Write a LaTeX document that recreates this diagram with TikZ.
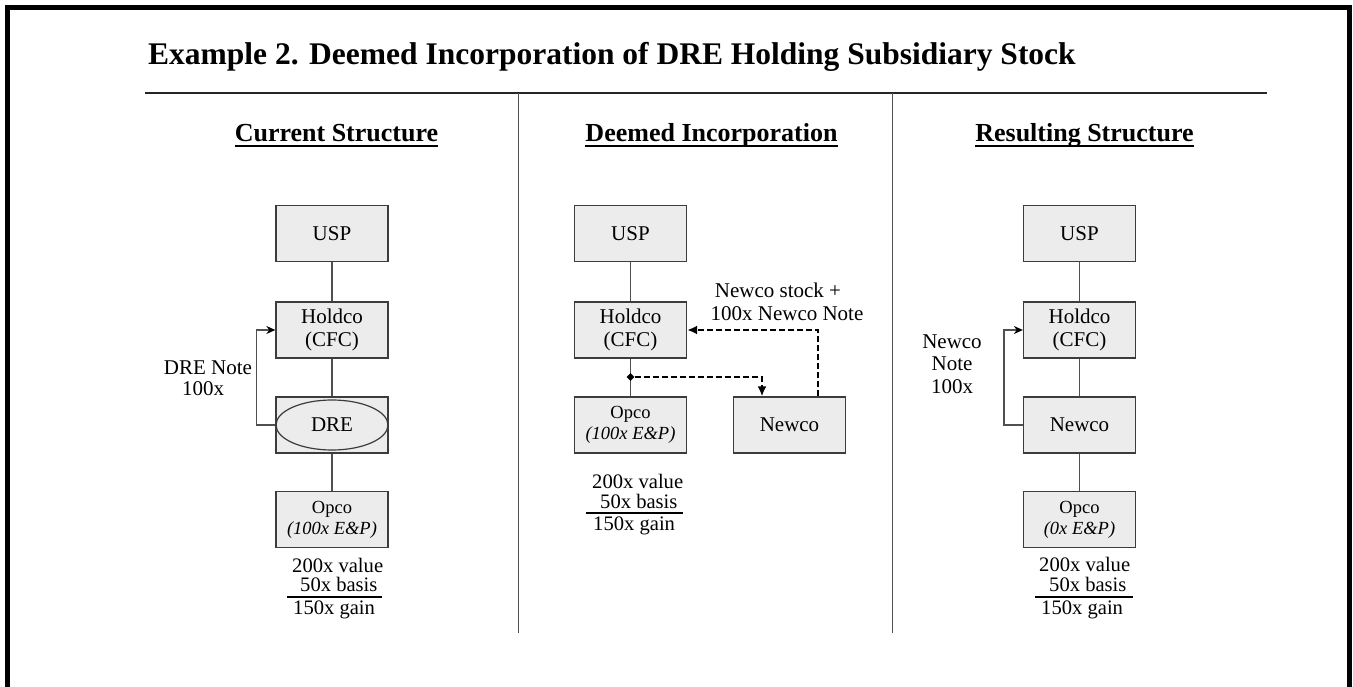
\documentclass[tikz,border=0pt]{standalone}
\usepackage{fontspec}
\setmainfont{Liberation Serif}
\usetikzlibrary{arrows.meta,shapes.geometric}
\definecolor{boxfill}{HTML}{ECECEC}
\definecolor{boxline}{HTML}{3C3C3C}
\definecolor{connline}{HTML}{505050}
\begin{document}
\begin{tikzpicture}[x=1pt,y=-1pt,
  box/.style={draw=boxline, fill=boxfill, line width=1.3pt, minimum width=112pt, minimum height=56pt, inner sep=0pt, align=center, font=\fontsize{21}{22.5}\selectfont},
  opcobox/.style={box, font=\fontsize{18.5}{21}\selectfont},
  conn/.style={draw=connline, line width=1.3pt},
  loopconn/.style={draw=connline, line width=1.3pt, -{Stealth[length=9pt,width=8pt,color=black]}},
  dasharrow/.style={draw=black, line width=2.2pt, dash pattern=on 6pt off 3pt, -{Latex[length=10pt,width=9pt]}},
  txt/.style={inner sep=0pt, font=\fontsize{21}{22.5}\selectfont},
  val/.style={inner sep=0pt, anchor=base west, font=\fontsize{20.6}{22}\selectfont},
  hdr/.style={inner sep=0pt, anchor=base, font=\fontsize{26}{28}\selectfont\bfseries},
  divider/.style={draw=connline, line width=1.4pt},
  uline/.style={draw=black, line width=1.2pt}
]
\useasboundingbox (0,0) rectangle (1353,687);
\begin{scope}
\clip (0,0) rectangle (1353,687);
\draw[line width=5pt, black] (7.5,700) -- (7.5,7.5) -- (1349,7.5) -- (1349,700);
\end{scope}

% title and rule
\node[inner sep=0pt, anchor=base west, font=\fontsize{31.5}{34}\selectfont\bfseries] (title) at (148,65) {Example 2. Deemed Incorporation of DRE Holding Subsidiary Stock};
\coordinate (ruleL) at (145,93);
\coordinate (ruleR) at (1267,93);
\draw[line width=1.4pt, black!85] (ruleL) -- (ruleR);

% dividers
\coordinate (d1t) at (518.7,93);
\coordinate (d1b) at (518.7,633);
\coordinate (d2t) at (892.7,93);
\coordinate (d2b) at (892.7,633);
\draw[divider] (d1t) -- (d1b);
\draw[divider] (d2t) -- (d2b);

% headers
\node[hdr] (h1) at (336.5,142) {Current Structure};
\node[hdr] (h2) at (711.5,142) {Deemed Incorporation};
\node[hdr] (h3) at (1084.5,142) {Resulting Structure};
\foreach \h in {h1,h2,h3}{
  \draw[line width=2pt, black] ([yshift=-4.5pt]\h.base west) -- ([yshift=-4.5pt]\h.base east);
}

% ---------- Panel 1 ----------
\node[box] (usp1) at (332,233.5) {USP};
\node[box] (hold1) at (332,330) {Holdco\\(CFC)};
\node[box] (dre1) at (332,425) {};
\node[ellipse, draw=boxline, line width=1.2pt, minimum width=112pt, minimum height=50pt, inner sep=0pt, font=\fontsize{21}{22.5}\selectfont] (dreE) at (332,425) {DRE};
\node[opcobox] (opco1) at (332,519.5) {Opco\\\textit{(100x E\&P)}};
\draw[conn] (usp1.south) -- (hold1.north);
\draw[conn] (hold1.south) -- (dre1.north);
\draw[conn] (dre1.south) -- (opco1.north);
\draw[loopconn] (dre1.west) -- ++(-19,0) |- (hold1.west);
\node[txt, anchor=base] (n1a) at (208,374) {DRE Note};
\node[txt, anchor=base] (n1b) at (203,395) {100x};
\node[val] (v1a) at (292,572) {200x value};
\node[val] (v1b) at (300,591) {50x basis};
\node[val] (v1c) at (293,614) {150x gain};
\coordinate (u1a) at (287,597);
\coordinate (u1b) at (382,597);
\draw[uline] (u1a) -- (u1b);

% ---------- Panel 2 ----------
\node[box] (usp2) at (630.5,233.5) {USP};
\node[box] (hold2) at (630.5,330) {Holdco\\(CFC)};
\node[opcobox] (opco2) at (630.5,425) {Opco\\\textit{(100x E\&P)}};
\node[box] (newco2) at (789.5,425) {Newco};
\draw[conn] (usp2.south) -- (hold2.north);
\draw[conn] (hold2.south) -- (opco2.north);
\node[diamond, fill=black, inner sep=0pt, minimum size=8pt] (dm) at (630.5,377) {};
\draw[dasharrow] (dm.east) -| ([xshift=-27.5pt]newco2.north);
\draw[dasharrow] ([xshift=28.5pt]newco2.north) |- (hold2.east);
\node[txt, anchor=base] (l2a) at (778,298) {Newco stock +};
\node[txt, anchor=base] (l2b) at (787,320.5) {100x Newco Note};
\node[val] (v2a) at (592,488) {200x value};
\node[val] (v2b) at (600,508) {50x basis};
\node[val] (v2c) at (593,530) {150x gain};
\coordinate (u2a) at (586,513);
\coordinate (u2b) at (683,513);
\draw[uline] (u2a) -- (u2b);

% ---------- Panel 3 ----------
\node[box] (usp3) at (1079.5,233.5) {USP};
\node[box] (hold3) at (1079.5,330) {Holdco\\(CFC)};
\node[box] (newco3) at (1079.5,425) {Newco};
\node[opcobox] (opco3) at (1079.5,519.5) {Opco\\\textit{(0x E\&P)}};
\draw[conn] (usp3.south) -- (hold3.north);
\draw[conn] (hold3.south) -- (newco3.north);
\draw[conn] (newco3.south) -- (opco3.north);
\draw[loopconn] (newco3.west) -- ++(-19,0) |- (hold3.west);
\node[txt, align=center] (n3) at (952,364) {Newco\\Note\\100x};
\node[val] (v3a) at (1039,571) {200x value};
\node[val] (v3b) at (1049,591) {50x basis};
\node[val] (v3c) at (1041,614) {150x gain};
\coordinate (u3a) at (1035,597);
\coordinate (u3b) at (1133,597);
\draw[uline] (u3a) -- (u3b);
\end{tikzpicture}
\end{document}
